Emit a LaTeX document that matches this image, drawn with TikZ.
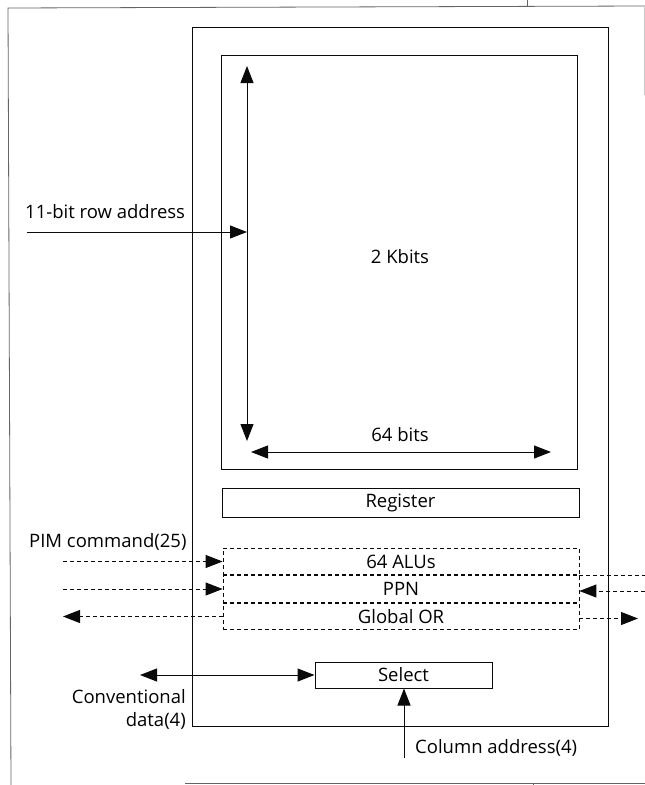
\documentclass[tikz,border=0pt]{standalone}
\usepackage{fontspec}
\setmainfont{Open Sans}
\usepackage{tikz}
\usetikzlibrary{arrows.meta,positioning,calc}
\definecolor{inkC}{RGB}{10,10,10}
\definecolor{rimC}{RGB}{100,100,100}
\tikzset{
  blockbox/.style={rectangle, draw=inkC, line width=1pt, inner sep=0pt,
                   minimum width=#1},
  unitbox/.style={rectangle, draw=inkC, line width=0.8pt, inner sep=0pt,
                  dash pattern=on 4pt off 3pt, minimum width=356pt, minimum height=26.7pt},
  lbl/.style={font=\fontsize{18.5}{23}\selectfont, inner sep=0pt},
  arr/.style={-{Triangle[length=17pt, width=13pt]}, line width=1pt, draw=inkC},
  darr/.style={{Triangle[length=17pt, width=13pt]}-{Triangle[length=17pt, width=13pt]},
               line width=1pt, draw=inkC},
  dsh/.style={line width=0.9pt, draw=inkC, dash pattern=on 4pt off 3pt},
  rim/.style={line width=0.8pt, draw=rimC},
}
\begin{document}
\begin{tikzpicture}[x=1pt, y=-1pt]
  \useasboundingbox (0,0) rectangle (645,785);
  % page rule
  \draw[rim] (527,0) -- (527,7);
  \draw[rim] (645,6) -- (8,8) -- (11,785);
  \draw[rim, draw=rimC!35] (644,6) -- (644,95);
  \draw[rim] (185,783) -- (645,783);
  \draw[rim] (533,783) -- (533,785);
  % chip and memory array
  \node[blockbox=416pt, minimum height=699pt] (chip) at (400,376.5) {};
  \node[blockbox=356pt, minimum height=414pt] (array) at (399,262) {};
  \node[lbl] (kbits) at (400,257) {2 Kbits};
  \coordinate (rowtop) at (247,66);
  \coordinate (rowbot) at (247,441);
  \draw[darr] (rowbot) -- (rowtop);
  \coordinate (rowin) at (27,232);
  \draw[arr] (rowin) -- (rowin -| rowtop);
  \node[lbl, anchor=west] (rowlbl) at (25,212) {11-bit row address};
  \coordinate (bitsL) at (251,452);
  \coordinate (bitsR) at (551,452);
  \draw[darr] (bitsL) -- (bitsR);
  \node[lbl] (bits) at (400,435) {64 bits};
  % register and processing units
  \node[blockbox=357pt, minimum height=29pt, lbl] (reg) at (400.5,502.5) {Register};
  \node[unitbox, lbl] (alus) at (401,561.5) {64 ALUs};
  \node[unitbox, lbl, below=0pt of alus] (ppn) {PPN};
  \node[unitbox, lbl, below=0pt of ppn] (gor) {Global OR};
  \node[lbl, anchor=west] (pim) at (29,542) {PIM command(25)};
  \coordinate (leftx) at (63,0);
  \coordinate (edgex) at (645,0);
  \coordinate (orx) at (638,0);
  \draw[arr, dsh] (alus.west -| leftx) -- (alus.west);
  \draw[arr, dsh] (ppn.west -| leftx) -- (ppn.west);
  \draw[arr, dsh] (gor.west) -- (gor.west -| leftx);
  \draw[dsh] (alus.south east) -- (alus.south east -| edgex);
  \draw[arr, dsh] ($(ppn.east -| edgex)+(0,2)$) -- ($(ppn.east)+(0,2)$);
  \draw[arr, dsh] ($(gor.east)+(0,2)$) -- ($(gor.east -| orx)+(0,2)$);
  % column select
  \node[blockbox=177pt, minimum height=26pt, lbl] (sel) at (403.5,675) {Select};
  \coordinate (convx) at (140,0);
  \draw[darr] (sel.west -| convx) -- (sel.west);
  \node[lbl, anchor=east, align=right] (conv) at (186,709.5) {Conventional\\data(4)};
  \coordinate (colin) at (404,758);
  \draw[arr] (colin) -- (colin |- sel.south);
  \node[lbl, anchor=west] (col) at (415,748) {Column address(4)};
\end{tikzpicture}
\end{document}
